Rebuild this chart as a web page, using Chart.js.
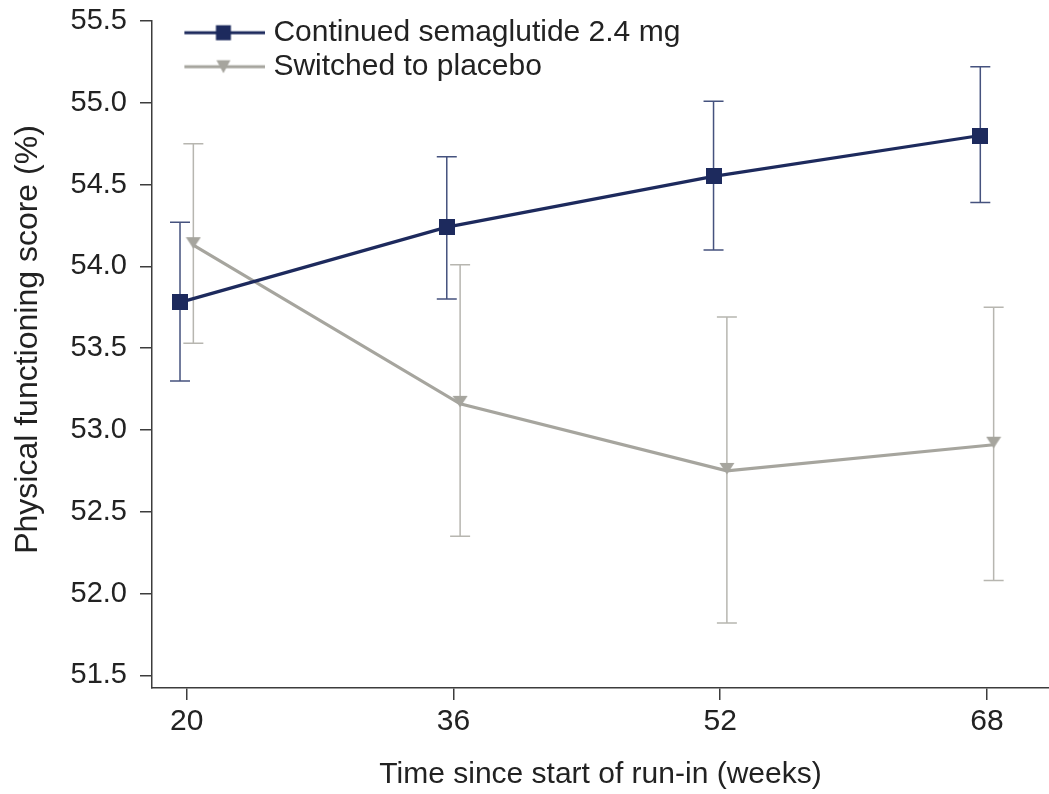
<!DOCTYPE html>
<html><head><meta charset="utf-8">
<script src="https://cdn.jsdelivr.net/npm/chart.js@4.4.1/dist/chart.umd.min.js"></script>
<style>html,body{margin:0;padding:0;background:#fff;overflow:hidden}#wrap{width:1049px;height:794px}</style>
</head><body><div id="wrap"><canvas id="c" width="1049" height="794"></canvas></div>
<script>
// ---- data ----
const weeks = [20, 36, 52, 68];
const seriesNames = ['Continued semaglutide 2.4 mg', 'Switched to placebo'];
const semaMean  = [53.78, 54.24, 54.55, 54.80];
const semaUpper = [54.27, 54.67, 55.01, 55.22];
const semaLower = [53.30, 53.80, 54.10, 54.39];
const placeboMean  = [54.13, 53.16, 52.75, 52.91];
const placeboUpper = [54.75, 54.01, 53.69, 53.75];
const placeboLower = [53.53, 52.35, 51.82, 52.08];
const yTicks = [51.5, 52.0, 52.5, 53.0, 53.5, 54.0, 54.5, 55.0, 55.5];
const xTitle = 'Time since start of run-in (weeks)';
const yTitle = 'Physical functioning score (%)';

// ---- styles ----
const NAVY = '#1d2a5d', NAVY_ERR = '#45527e', GRAY = '#a6a59e', GRAY_ERR = '#b7b6b0';
const AXIS = '#3c3c3c', TEXT = '#222222';
const FONT = "'Liberation Sans', Arial, Helvetica, sans-serif";
const DODGE = 0.4;
const Y_TITLE_SHIFT = -15;

function mk(w, h, fn) { const c = document.createElement('canvas'); c.width = w; c.height = h; fn(c.getContext('2d')); return c; }
const squareMarker = mk(16, 16, g => { g.fillStyle = NAVY; g.fillRect(0, 0, 16, 16); });
const triMarker = mk(16, 18, g => { g.fillStyle = GRAY; g.beginPath(); g.moveTo(0.5, 1); g.lineTo(15.5, 1); g.lineTo(8, 12.5); g.closePath(); g.fill(); });
const legendSema = mk(84, 20, g => {
  g.strokeStyle = NAVY; g.lineWidth = 3; g.beginPath(); g.moveTo(0, 10); g.lineTo(84, 10); g.stroke();
  g.fillStyle = NAVY; g.fillRect(34.5, 2.5, 15, 15);
});
const legendPlacebo = mk(84, 20, g => {
  g.strokeStyle = GRAY; g.lineWidth = 3; g.beginPath(); g.moveTo(0, 10); g.lineTo(84, 10); g.stroke();
  g.fillStyle = GRAY; g.beginPath(); g.moveTo(35, 3.5); g.lineTo(49, 3.5); g.lineTo(42, 16.5); g.closePath(); g.fill();
});

const errorBars = {
  id: 'errorBars',
  beforeDatasetsDraw(chart) {
    const {ctx, scales: {x, y}} = chart;
    chart.data.datasets.forEach(ds => {
      const eb = ds.errorBars; if (!eb) return;
      ctx.save(); ctx.strokeStyle = eb.color; ctx.lineWidth = eb.width;
      ds.data.forEach((pt, j) => {
        const px = x.getPixelForValue(pt.x);
        const yt = y.getPixelForValue(eb.upper[j]), yb = y.getPixelForValue(eb.lower[j]);
        ctx.beginPath();
        ctx.moveTo(px, yt); ctx.lineTo(px, yb);
        ctx.moveTo(px - eb.cap / 2, yt); ctx.lineTo(px + eb.cap / 2, yt);
        ctx.moveTo(px - eb.cap / 2, yb); ctx.lineTo(px + eb.cap / 2, yb);
        ctx.stroke();
      });
      ctx.restore();
    });
  }
};

const legendPlace = {
  id: 'legendPlace',
  afterLayout(chart) {
    const lg = chart.legend; if (lg) {
      const w = lg.width, h = lg.height;
      lg.left = 184.4; lg.top = 13.7; lg.right = lg.left + w; lg.bottom = lg.top + h + 100;
    }
    const s = chart.scales.y;
    if (s && !s._titleShifted) {
      const orig = s.drawTitle.bind(s);
      s.drawTitle = function () { const c = this.ctx; c.save(); c.translate(0, Y_TITLE_SHIFT); orig(); c.restore(); };
      s._titleShifted = true;
    }
  }
};

new Chart(document.getElementById('c'), {
  type: 'line',
  data: {
    datasets: [
      {
        label: seriesNames[0],
        data: weeks.map((w, i) => ({x: w - DODGE, y: semaMean[i]})),
        borderColor: NAVY, backgroundColor: NAVY, borderWidth: 3.2,
        pointStyle: squareMarker, pointRadius: 8, pointHoverRadius: 8, pointBorderWidth: 0,
        errorBars: {upper: semaUpper, lower: semaLower, color: NAVY_ERR, width: 1.5, cap: 20},
        tension: 0, clip: false
      },
      {
        label: seriesNames[1],
        data: weeks.map((w, i) => ({x: w + DODGE, y: placeboMean[i]})),
        borderColor: GRAY, backgroundColor: GRAY, borderWidth: 3.2,
        pointStyle: triMarker, pointRadius: 8, pointHoverRadius: 8, pointBorderWidth: 0,
        errorBars: {upper: placeboUpper, lower: placeboLower, color: GRAY_ERR, width: 1.5, cap: 20},
        tension: 0, clip: false
      }
    ]
  },
  options: {
    responsive: false, animation: false, devicePixelRatio: 1,
    layout: {autoPadding: false, padding: {top: 21, left: 0, right: 0, bottom: 0}},
    plugins: {
      tooltip: {enabled: false},
      legend: {
        position: 'chartArea', align: 'start',
        labels: {
          usePointStyle: true, pointStyleWidth: 70, padding: 4,
          font: {family: FONT, size: 30}, color: TEXT,
          generateLabels: () => [
            {text: seriesNames[0], pointStyle: legendSema, fillStyle: NAVY, strokeStyle: NAVY, lineWidth: 0, fontColor: TEXT, datasetIndex: 0, hidden: false},
            {text: seriesNames[1], pointStyle: legendPlacebo, fillStyle: GRAY, strokeStyle: GRAY, lineWidth: 0, fontColor: TEXT, datasetIndex: 1, hidden: false}
          ]
        }
      }
    },
    scales: {
      x: {
        type: 'linear', min: 17.92, max: 71.72,
        afterBuildTicks: s => { s.ticks = weeks.map(v => ({value: v})); },
        afterFit: s => { s.height = 106; s.paddingLeft = 0; s.paddingRight = 0; },
        ticks: {font: {family: FONT, size: 30}, color: TEXT, padding: 4, maxRotation: 0, autoSkip: false, callback: v => String(v)},
        grid: {drawOnChartArea: false, drawTicks: true, tickLength: 12, color: AXIS, lineWidth: 1.5},
        border: {color: AXIS, width: 1.5},
        title: {display: true, text: xTitle, font: {family: FONT, size: 30}, color: TEXT, padding: {top: 0, bottom: 1}}
      },
      y: {
        type: 'linear', min: 51.423, max: 55.5,
        afterBuildTicks: s => { s.ticks = yTicks.map(v => ({value: v})); },
        afterFit: s => { s.width = 152; s.paddingTop = 0; s.paddingBottom = 0; },
        ticks: {font: {family: FONT, size: 29}, color: TEXT, padding: 13, callback: v => Number(v).toFixed(1)},
        grid: {drawOnChartArea: false, drawTicks: true, tickLength: 12, color: AXIS, lineWidth: 1.5},
        border: {color: AXIS, width: 1.5},
        title: {display: true, text: yTitle, font: {family: FONT, size: 32}, color: TEXT, padding: {top: 9, bottom: 0}}
      }
    }
  },
  plugins: [errorBars, legendPlace]
});
</script>
</body></html>
